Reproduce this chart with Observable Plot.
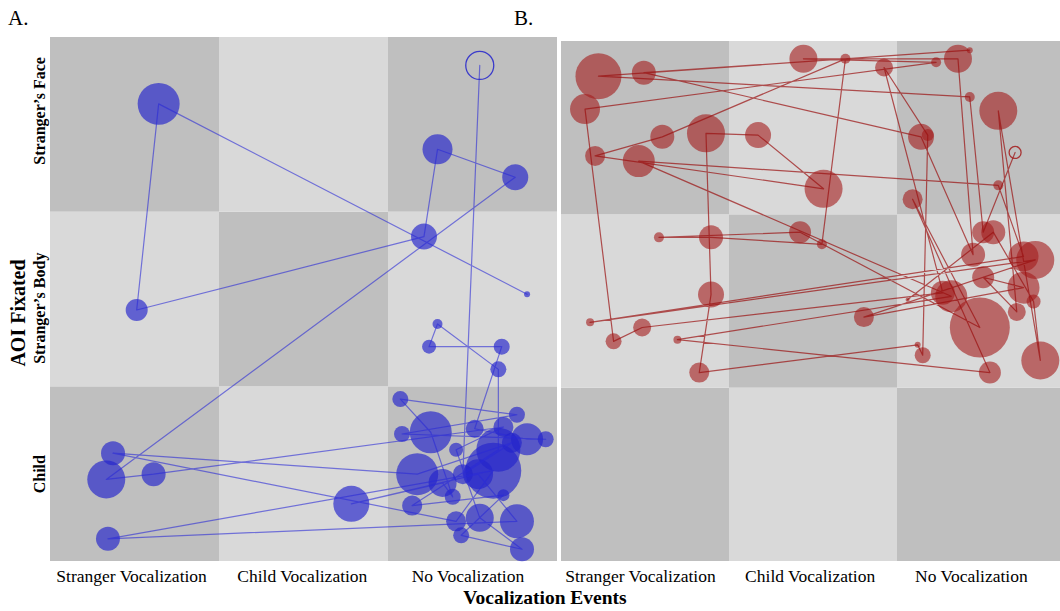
<!DOCTYPE html>
<html><head><meta charset="utf-8">
<script src="https://cdn.jsdelivr.net/npm/d3@7"></script>
<script src="https://cdn.jsdelivr.net/npm/@observablehq/plot@0.6"></script>
<style>
html,body{margin:0;padding:0;background:#fff;}
#wrap{position:relative;width:1060px;height:611px;overflow:hidden;font-family:"Liberation Serif","Times New Roman",serif;color:#000;}
.pl{position:absolute;top:0;}
.pl svg{max-width:none !important;}
.pl svg text{font-family:"Liberation Serif","Times New Roman",serif;}
.lbl{position:absolute;white-space:nowrap;line-height:1;}
</style></head><body>
<div id="wrap">
  <div id="pa" class="pl" style="left:0px;width:557px"></div>
  <div id="pb" class="pl" style="left:557px;width:508px"></div>
  <div class="lbl" style="left:8px;top:8px;font-size:21px">A.</div>
  <div class="lbl" style="left:514px;top:8px;font-size:21px">B.</div>
  <div class="lbl" style="left:18px;top:313px;font-size:20px;font-weight:bold;transform:translate(-50%,-50%) rotate(-90deg)">AOI Fixated</div>
  <div class="lbl" style="left:545px;top:598px;font-size:19.5px;font-weight:bold;transform:translate(-50%,-50%)">Vocalization Events</div>
</div>
<script>
// Categories
const xLabels = ["Stranger Vocalization", "Child Vocalization", "No Vocalization"];
const yLabels = ["Child", "Stranger’s Body", "Stranger’s Face"];
const aXTicks = [0.48, 1.49, 2.47];
const bXTicks = [0.47, 1.48, 2.44];
const yTicks = [0.5, 1.45, 2.58];

// Panel A (blue): fixation sequence, x = vocalization event position, y = AOI position, dur = fixation duration (s)
const aX = [2.54,2.44,2.73,2.17,0.37,2.40,2.62,0.34,2.76,2.53,1.78,2.32,2.38,2.25,2.07,2.76,2.08,2.93,2.82,2.51,2.67,2.24,2.29,2.65,2.65,2.14,2.68,2.43,2.79,2.54,2.40,2.68,0.61,0.33,2.75,2.29,2.21,0.51,0.64,2.82];
const aY = [2.84,0.50,0.68,0.50,0.62,0.23,0.52,0.13,0.23,0.50,0.33,0.45,0.37,0.74,0.93,0.84,0.73,0.70,0.70,0.76,1.23,1.23,1.36,1.10,0.64,0.32,0.38,0.15,0.07,0.25,0.64,0.77,0.50,0.47,2.20,2.36,1.86,1.44,2.62,1.53];
const aDur = [1.96,1.0,1.0,4.41,1.44,1.0,7.84,1.44,2.89,2.25,3.24,1.96,0.64,4.41,0.64,0.64,0.64,0.64,2.56,0.81,0.64,0.49,0.25,0.64,4.84,1.0,0.36,0.64,1.44,1.96,0.49,1.0,1.44,3.61,1.69,2.25,1.69,1.21,4.41,0.09];

// Panel B (red)
const bX = [2.70,2.51,2.43,0.22,2.43,0.49,2.14,2.45,2.36,1.44,2.23,0.14,0.31,0.48,2.27,1.92,2.18,2.15,2.12,0.82,0.89,0.86,1.17,1.56,0.20,0.60,1.69,1.55,0.89,0.58,1.42,2.49,2.09,2.55,0.69,2.32,0.46,2.60,2.75,0.17,2.82,1.80,2.75,2.51,2.71,2.60,2.85,2.81,2.57,2.06];
const bY = [2.36,1.90,2.68,2.80,2.95,2.82,2.45,1.77,2.90,2.90,2.88,2.61,1.27,1.35,1.55,2.85,2.46,1.19,1.25,1.09,1.54,2.47,2.46,2.15,2.34,2.45,2.90,1.83,1.87,1.87,1.90,1.35,2.09,1.09,1.28,1.53,2.31,2.17,1.76,1.38,1.74,1.41,1.58,1.64,1.44,2.60,1.16,1.50,1.90,1.51];
const bDur = [0.36,1.21,0.25,5.29,0.09,1.44,1.69,1.44,1.96,1.96,0.25,2.25,0.64,0.81,1.44,0.81,0.36,0.64,0.09,1.0,1.69,3.61,1.69,3.61,1.0,1.44,0.25,0.25,1.44,0.25,1.21,9.0,1.0,1.21,0.16,2.56,2.56,0.25,2.25,0.16,3.61,1.0,2.56,1.21,0.81,3.61,3.61,0.49,1.44,0.04];

const cells = d3.cross([0,1,2],[0,1,2]).map(([i,j]) => ({i, j}));
const toRows = (X, Y, D) => X.map((x, k) => ({x, y: Y[k], dur: D[k], k}));
const aData = toRows(aX, aY, aDur);
const bData = toRows(bX, bY, bDur);

const DARK = "#bfbfbf", LIGHT = "#d9d9d9";
const SERIF = "'Liberation Serif', 'Times New Roman', serif";

function panel(data, color, lineColor, fillOpacity, lineOpacity, xTicks, showY, opts) {
  const marks = [
    Plot.rect(cells, {x1: d => d.i, x2: d => d.i + 1, y1: d => d.j, y2: d => d.j + 1,
      fill: d => ((d.i + d.j) % 2 === 0 ? DARK : LIGHT)}),
    Plot.dot(data.slice(1), {x: "x", y: "y", r: "dur", fill: color, fillOpacity, stroke: "none"}),
    Plot.line(data, {x: "x", y: "y", stroke: lineColor, strokeOpacity: lineOpacity, strokeWidth: 1.2}),
    Plot.dot(data.slice(0, 1), {x: "x", y: "y", r: "dur", fill: "none", stroke: color, strokeOpacity: 0.85, strokeWidth: 1.3}),
    Plot.axisX({ticks: xTicks, tickFormat: d => xLabels[xTicks.indexOf(d)], tickSize: 0, tickPadding: 8, fontSize: 17.5, fontFamily: SERIF, anchor: "bottom", label: null})
  ];
  if (showY) marks.push(Plot.axisY({ticks: yTicks, tickFormat: d => yLabels[yTicks.indexOf(d)], tickSize: 0, tickPadding: 6, tickRotate: -90, fontSize: 16, fontWeight: "bold", fontFamily: SERIF, anchor: "left", label: null}));
  return Plot.plot({
    ...opts,
    height: 611,
    marginBottom: 50,
    x: {domain: [0, 3], axis: null},
    y: {domain: [0, 3], axis: null},
    r: {type: "sqrt", domain: [0, 10], range: [0, 31.62]},
    style: {fontFamily: SERIF, color: "#000", background: "transparent", overflow: "visible", maxWidth: "none"},
    marks
  });
}

document.getElementById("pa").append(panel(aData, "#2323cc", "#2a2ad6", 0.66, 0.6, aXTicks, true,
  {width: 557, marginLeft: 50, marginRight: 0, marginTop: 37}));
document.getElementById("pb").append(panel(bData, "#a31a1a", "#9a1010", 0.6, 0.7, bXTicks, false,
  {width: 508, marginLeft: 4, marginRight: 0, marginTop: 41}));
</script>
</body></html>
